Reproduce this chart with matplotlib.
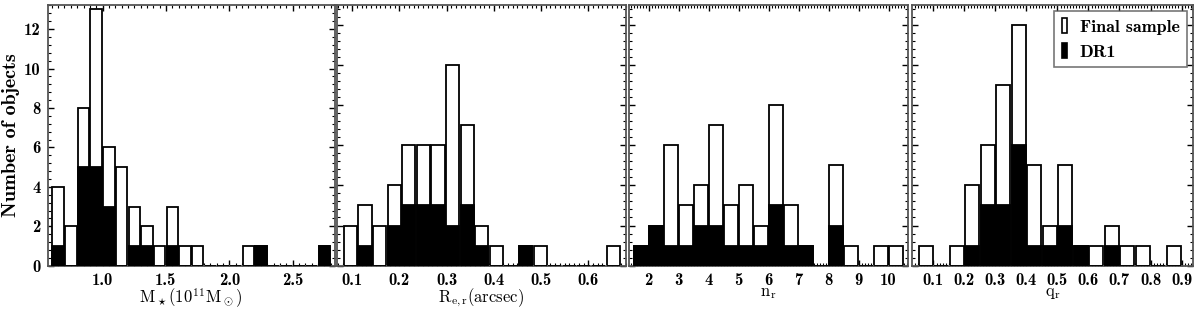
"""Four-panel histograms: Final sample vs DR1 (stellar mass, Re, n, q)."""

import matplotlib

matplotlib.use("Agg")
import matplotlib.pyplot as plt
from matplotlib.patches import Patch
from matplotlib.ticker import AutoMinorLocator, FixedLocator, FormatStrFormatter

plt.rcParams["mathtext.fontset"] = "cm"
plt.rcParams["font.family"] = ["cmb10", "DejaVu Serif"]
plt.rcParams["axes.unicode_minus"] = False

# --- data (counts per bin) ---
mass_edges = [0.6 + 0.1 * k for k in range(22)]
mass_final = [4, 2, 8, 13, 6, 5, 3, 2, 1, 3, 1, 1, 0, 0, 0, 1, 1, 0, 0, 0, 0, 1]
mass_dr1 = [1, 0, 5, 5, 3, 0, 1, 1, 0, 1, 0, 0, 0, 0, 0, 0, 1, 0, 0, 0, 0, 1]

re_edges = [0.081 + 0.0309 * k for k in range(19)]
re_final = [2, 3, 2, 4, 6, 6, 6, 10, 7, 2, 1, 0, 1, 1, 0, 0, 0, 0, 1]
re_dr1 = [0, 1, 0, 2, 3, 3, 3, 2, 3, 1, 0, 0, 1, 0, 0, 0, 0, 0, 0]

n_edges = [1.5 + 0.5 * k for k in range(18)]
n_final = [1, 2, 6, 3, 4, 7, 3, 4, 2, 8, 3, 1, 0, 5, 1, 0, 1, 1]
n_dr1 = [1, 2, 1, 1, 2, 2, 1, 1, 1, 3, 1, 1, 0, 2, 0, 0, 0, 0]

q_edges = [0.05 + 0.05 * k for k in range(17)]
q_final = [1, 0, 1, 4, 6, 9, 12, 5, 2, 5, 1, 1, 2, 1, 1, 0, 1]
q_dr1 = [0, 0, 0, 1, 3, 3, 6, 1, 1, 2, 1, 0, 1, 0, 0, 0, 0]

PANELS = [
    (mass_edges, 0.1, mass_final, mass_dr1, r"$\mathrm{M_\star(10^{11}M_\odot)}$",
     (0.566, 2.83), 13.25, [1.0, 1.5, 2.0, 2.5], "%.1f"),
    (re_edges, 0.0309, re_final, re_dr1, r"$\mathrm{R_{e,r}(arcsec)}$",
     (0.068, 0.68), 13.0, [0.1, 0.2, 0.3, 0.4, 0.5, 0.6], "%.1f"),
    (n_edges, 0.5, n_final, n_dr1, r"$\mathrm{n_r}$",
     (1.33, 10.65), 13.0, list(range(2, 11)), "%d"),
    (q_edges, 0.05, q_final, q_dr1, r"$\mathrm{q_r}$",
     (0.031, 0.937), 13.0, [0.1, 0.2, 0.3, 0.4, 0.5, 0.6, 0.7, 0.8, 0.9], "%.1f"),
]

W, H = 1200, 309
BOUNDS = [(47.5, 334.5), (337, 626), (628.5, 908), (912, 1193)]
Y0, Y1 = 265.7, 4.5
FRAME = "#555555"

fig = plt.figure(figsize=(W / 100, H / 100), dpi=100)

for i, (edges, w, final, dr1, xlabel, xlim, ytop, xt, fmt) in enumerate(PANELS):
    l, r = BOUNDS[i]
    ax = fig.add_axes([l / W, (H - Y0) / H, (r - l) / W, (Y0 - Y1) / H])
    left = [e + 0.05 * w for e in edges]
    ax.bar(left, final, width=0.9 * w, align="edge", color="white",
           edgecolor="black", linewidth=1.3, zorder=2)
    ax.bar(left, dr1, width=0.9 * w, align="edge", color="black",
           edgecolor="black", linewidth=1.3, zorder=3)
    ax.set_xlim(*xlim)
    ax.set_ylim(0, ytop)
    ax.xaxis.set_major_locator(FixedLocator(xt))
    ax.xaxis.set_major_formatter(FormatStrFormatter(fmt))
    ax.xaxis.set_minor_locator(AutoMinorLocator(10))
    ax.yaxis.set_major_locator(FixedLocator([0, 2, 4, 6, 8, 10, 12]))
    ax.yaxis.set_minor_locator(AutoMinorLocator(5))
    ax.tick_params(which="both", direction="in", top=True, right=True,
                   color="black", labelsize=12, pad=5)
    ax.tick_params(which="major", length=4, width=1)
    ax.tick_params(which="minor", length=2, width=0.8)
    for s in ax.spines.values():
        s.set_color(FRAME)
        s.set_linewidth(1.3)
    ax.set_xlabel(xlabel, fontsize=12, labelpad=-1)
    if i == 0:
        ax.set_ylabel("Number of objects", fontsize=14.5, labelpad=3)
    else:
        ax.tick_params(labelleft=False)
    if i == 3:
        handles = [Patch(facecolor="white", edgecolor="black", linewidth=1.2),
                   Patch(facecolor="black", edgecolor="black", linewidth=1.2)]
        leg = ax.legend(handles, ["Final sample", "DR1"], loc="upper right",
                        fontsize=13, fancybox=False, handlelength=0.3,
                        handleheight=0.9, handletextpad=0.7, borderpad=0.4,
                        labelspacing=0.45, borderaxespad=0.35)
        leg.get_frame().set_edgecolor(FRAME)
        leg.get_frame().set_linewidth(1.2)

fig.savefig("out.png", dpi=100)
